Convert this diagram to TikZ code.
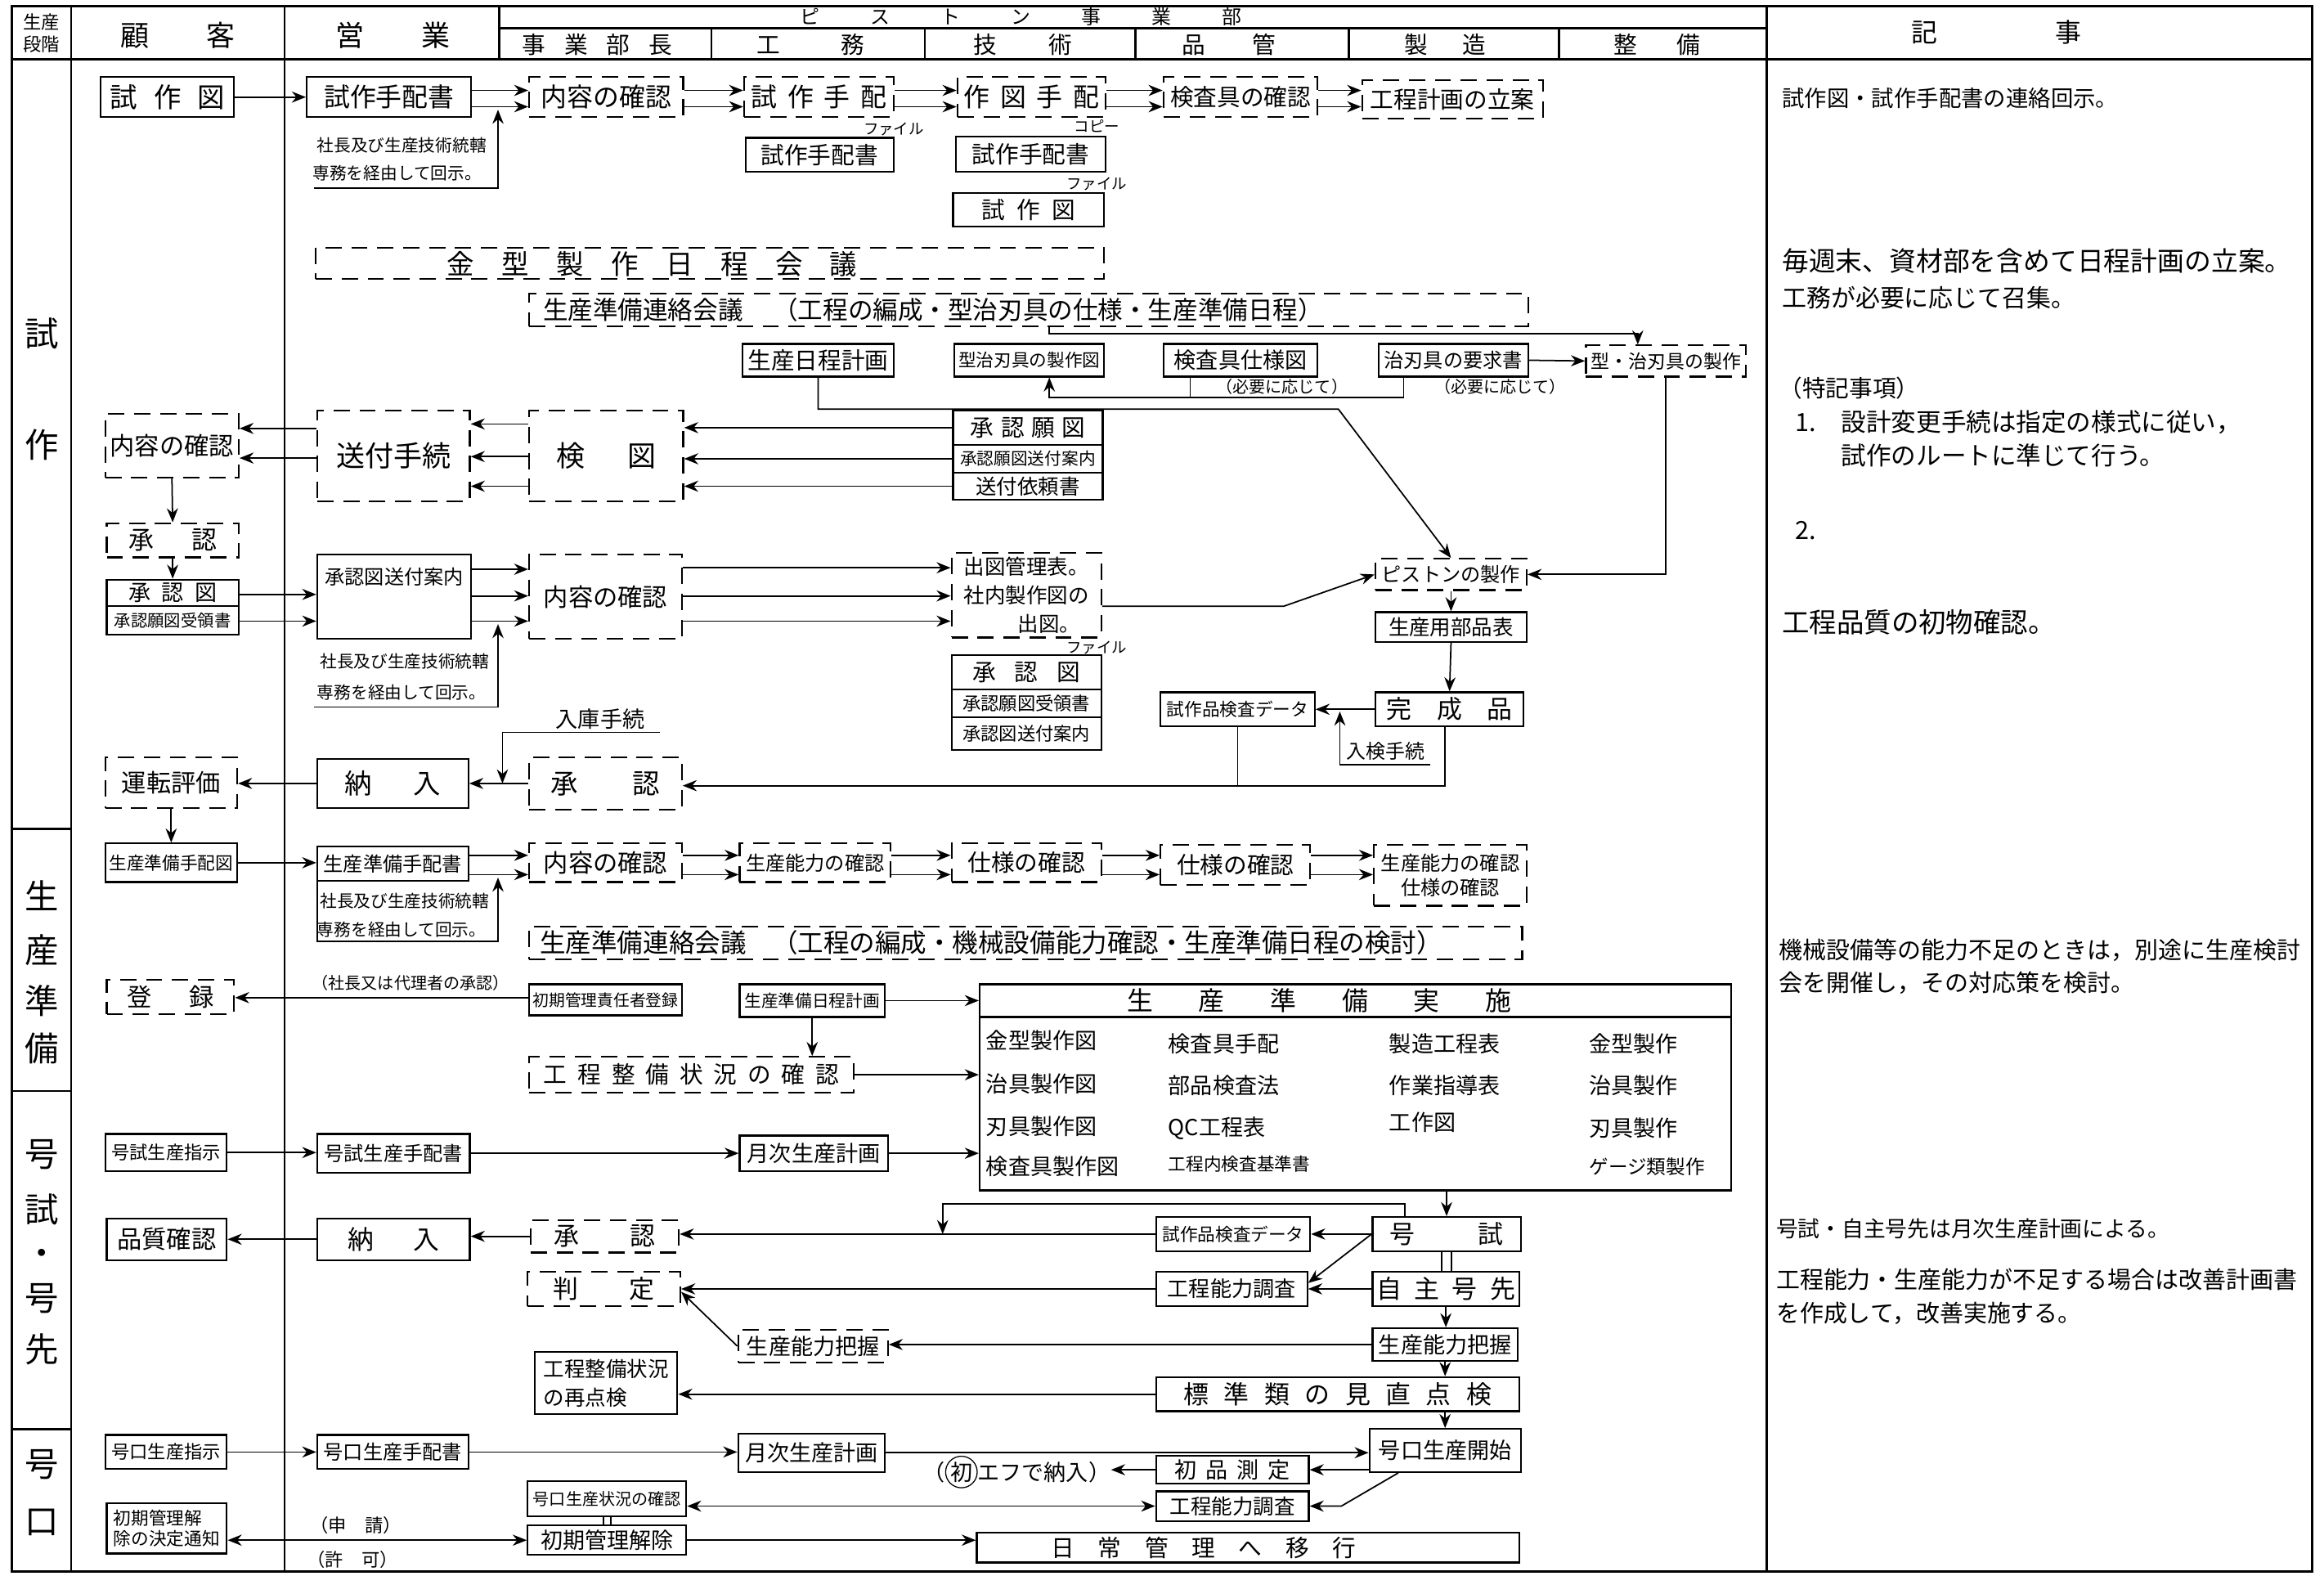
\documentclass[tikz,border=0pt]{standalone}
\usepackage{fontspec}
\setmainfont{Noto Sans CJK JP}
\usetikzlibrary{arrows.meta,calc}
\newcommand\fs[1]{\fontsize{#1}{#1}\selectfont}
\newcommand\bx[7][]{\node[box,#1,minimum width={(#5-#3)*0.2mm},minimum height={(#6-#4)*0.2mm}] (#2) at ({(#3+#5)/2},{(#4+#6)/2}) {#7};}
\newcommand\hy[4][arr]{\coordinate (tmpy) at (0,#4); \draw[#1] (#2 |- tmpy) -- (#3 |- tmpy);}
\tikzset{
 box/.style={draw, line width=0.7pt, inner sep=0pt, font=\fs{9.5}, align=center},
 dsh/.style={dash pattern=on 2.2mm off 1.3mm},
 arr/.style={line width=0.55pt, -{Stealth[length=1.9mm,width=1.5mm]}},
 arb/.style={line width=0.55pt, {Stealth[length=1.9mm,width=1.5mm]}-{Stealth[length=1.9mm,width=1.5mm]}},
 ln/.style={line width=0.55pt},
 frame/.style={line width=0.9pt},
 txt/.style={inner sep=0pt, font=\fs{9}},
}
\begin{document}
\begin{tikzpicture}[x=0.2mm,y=-0.2mm]
\useasboundingbox (0,0) rectangle (1568,1063);
\fill[white] (0,0) rectangle (1568,1063);
% ---------- frame ----------
\draw[frame] (8,4) rectangle (1560,1060);
\draw[frame] (8,40) -- (1560,40);
\draw[frame] (48,4) -- (48,1060);
\draw[frame] (192,4) -- (192,1060);
\draw[frame] (1192,4) -- (1192,1060);
\draw[frame] (337,4) -- (337,40);
\draw[frame] (337,19) -- (1192,19);
\foreach \xx in {480,624,766,910,1052} {\draw[frame] (\xx,19) -- (\xx,40);}
\draw[frame] (8,559) -- (48,559);
\draw[frame] (8,736) -- (48,736);
\draw[frame] (8,964) -- (48,964);
% header texts
\node[txt,font=\fs{7}] (hdA) at (28,15) {生産};
\node[txt,font=\fs{7}] (hdB) at (28,30) {段階};
\node[txt,font=\fs{11}] (hdC) at (120,24) {顧\hspace{2em}客};
\node[txt,font=\fs{11}] (hdD) at (265,24) {営\hspace{2em}業};
\node[txt,font=\fs{7.5}] (hdE) at (689,11) {ピ\hspace{2.6em}ス\hspace{2.6em}ト\hspace{2.6em}ン\hspace{2.6em}事\hspace{2.6em}業\hspace{2.6em}部};
\node[txt,font=\fs{9}] (hdF) at (403,30) {事\hspace{0.8em}業\hspace{0.8em}部\hspace{0.8em}長};
\node[txt,font=\fs{9}] (hdG) at (547,30) {工\hspace{2.6em}務};
\node[txt,font=\fs{9}] (hdH) at (690,30) {技\hspace{2.2em}術};
\node[txt,font=\fs{9}] (hdI) at (829,30) {品\hspace{2em}管};
\node[txt,font=\fs{9}] (hdJ) at (975,30) {製\hspace{1.5em}造};
\node[txt,font=\fs{9}] (hdK) at (1118,30) {整\hspace{1.7em}備};
\node[txt,font=\fs{10}] (hdL) at (1347,22) {記\hspace{4.5em}事};
% stage labels
\node[txt,font=\fs{13}] (stA) at (28,225) {試};
\node[txt,font=\fs{13}] (stB) at (28,300) {作};
\node[txt,font=\fs{13}] (stC) at (28,604) {生};
\node[txt,font=\fs{13}] (stD) at (28,641) {産};
\node[txt,font=\fs{13}] (stE) at (28,675) {準};
\node[txt,font=\fs{13}] (stF) at (28,707) {備};
\node[txt,font=\fs{13}] (stG) at (28,779) {号};
\node[txt,font=\fs{13}] (stH) at (28,816) {試};
\node[txt,font=\fs{13}] (stI) at (28,848) {・};
\node[txt,font=\fs{13}] (stJ) at (28,876) {号};
\node[txt,font=\fs{13}] (stK) at (28,910) {先};
\node[txt,font=\fs{13}] (stL) at (28,988) {号};
\node[txt,font=\fs{13}] (stM) at (28,1027) {口};
% ---------- row 1 ----------
\bx[font=\fs{10.5}]{szu}{68}{52}{158}{79}{試\hspace{0.6em}作\hspace{0.6em}図}
\bx[font=\fs{10}]{stts}{207}{52}{318}{79}{試作手配書}
\bx[dsh,font=\fs{10}]{nk1}{357}{52}{461}{79}{内容の確認}
\bx[dsh,font=\fs{10}]{stt}{502}{52}{603}{79}{試\hspace{0.4em}作\hspace{0.4em}手\hspace{0.4em}配}
\bx[dsh,font=\fs{10}]{szt}{646}{52}{746}{79}{作\hspace{0.4em}図\hspace{0.4em}手\hspace{0.4em}配}
\bx[dsh,font=\fs{9}]{kgk}{785}{52}{889}{79}{検査具の確認}
\bx[dsh,font=\fs{9}]{kkr}{919}{54}{1041}{80}{工程計画の立案}
\bx[font=\fs{9}]{fa}{503}{93}{603}{116}{試作手配書}
\bx[font=\fs{9}]{fb}{645}{92}{746}{116}{試作手配書}
\bx[font=\fs{9}]{fc}{643}{130}{745}{153}{試\hspace{0.5em}作\hspace{0.5em}図}
\node[txt,font=\fs{5.8}] (lfa) at (603,87) {ファイル};
\node[txt,font=\fs{5.8}] (lfb) at (740,85) {コピー};
\node[txt,font=\fs{5.8}] (lfc) at (740,124) {ファイル};
\draw[arr] (szu.east) -- (stts.west);
\hy{stts.east}{nk1.west}{61} \hy{stts.east}{nk1.west}{72}
\hy{nk1.east}{stt.west}{61} \hy{nk1.east}{stt.west}{72}
\hy{stt.east}{szt.west}{61} \hy{stt.east}{szt.west}{72}
\hy{szt.east}{kgk.west}{61} \hy{szt.east}{kgk.west}{72}
\hy{kgk.east}{kkr.west}{61} \hy{kgk.east}{kkr.west}{72}
\node[txt,font=\fs{6.5}] (n1a) at (271,98) {社長及び生産技術統轄};
\node[txt,font=\fs{6.5}] (n1b) at (268,117) {専務を経由して回示。};
\coordinate (n1l) at (212,127); \coordinate (n1r) at (336,127); \coordinate (n1t) at (336,74);
\draw[arr] (n1l) -- (n1r) -- (n1t);
% ---------- meetings ----------
\bx[dsh]{kgm}{213}{167}{745}{188}{}
\node[txt,font=\fs{10.5}] (kgmt) at (440,178) {金　型　製　作　日　程　会　議};
\bx[dsh]{srk1}{357}{198}{1031}{220}{}
\node[txt,font=\fs{9.6},anchor=west] (srk1t) at (366,209) {生産準備連絡会議\hspace{1.2em}（工程の編成・型治刃具の仕様・生産準備日程）};
% ---------- row 4 ----------
\bx[font=\fs{9}]{ssn}{501}{232}{603}{254}{生産日程計画}
\bx[font=\fs{6.8}]{kzz}{644}{232}{745}{254}{型治刃具の製作図}
\bx[font=\fs{8.5}]{kgs}{785}{232}{889}{254}{検査具仕様図}
\bx[font=\fs{7.6}]{jyk}{930}{232}{1031}{254}{治刃具の要求書}
\bx[dsh,font=\fs{7.2}]{ksk}{1070}{233}{1178}{254}{型・治刃具の製作}
\node[txt,font=\fs{6.3}] (hy1) at (865,261) {（必要に応じて）};
\node[txt,font=\fs{6.3}] (hy2) at (1012,261) {（必要に応じて）};
\coordinate (b1) at (708,268); \coordinate (b2) at (803,268); \coordinate (b3) at (947,268);
\draw[ln] (b3 |- jyk.south) -- (b3) -- (b2);
\draw[ln] (b2 |- kgs.south) -- (b2);
\draw[arr] (b2) -- (b1) -- (b1 |- kzz.south);
\draw[arr] (jyk.east) -- (ksk.west);
\coordinate (a1) at (708,225); \coordinate (a2) at (1105,225);
\draw[arr] (a1 |- srk1.south) -- (a1) -- (a2) -- (a2 |- ksk.north);
% ---------- 検図 block ----------
\bx[dsh,font=\fs{9.5}]{nk2}{71}{279}{161}{322}{内容の確認}
\bx[dsh,font=\fs{11}]{sft}{214}{277}{317}{338}{送付手続}
\bx[dsh,font=\fs{11}]{ktz}{357}{277}{461}{338}{検\hspace{1.5em}図}
\bx[font=\fs{9}]{sng}{643}{277}{744}{300}{承\hspace{0.3em}認\hspace{0.3em}願\hspace{0.3em}図}
\bx[font=\fs{6.5}]{sngs}{643}{300}{744}{319}{承認願図送付案内}
\bx[font=\fs{8}]{sfi}{643}{319}{744}{337}{送付依頼書}
\draw[arr] (sng.west) -- (sng.west -| ktz.east);
\draw[arr] (sngs.west) -- (sngs.west -| ktz.east);
\draw[arr] (sfi.west) -- (sfi.west -| ktz.east);
\hy{ktz.west}{sft.east}{286} \hy{ktz.west}{sft.east}{308} \hy{ktz.west}{sft.east}{328}
\hy{sft.west}{nk2.east}{289} \hy{sft.west}{nk2.east}{309}
% ---------- 承認 block ----------
\bx[dsh,font=\fs{9.7}]{sn1}{72}{353}{161}{376}{承\hspace{1.5em}認}
\bx[font=\fs{8.5}]{snz}{72}{391}{161}{409}{承\hspace{0.5em}認\hspace{0.5em}図}
\bx[font=\fs{6.4}]{snj}{72}{409}{161}{428}{承認願図受領書}
\bx{sza}{214}{374}{318}{431}{}
\node[txt,font=\fs{7.6}] (szat) at (266,389) {承認図送付案内};
\bx[dsh,font=\fs{9.5}]{nk3}{357}{374}{460}{431}{内容の確認}
\bx[dsh,font=\fs{8},align=left]{szk}{642}{373}{743}{430}{出図管理表。\\[3pt]社内製作図の\\[3pt]\hspace{2.6em}出図。}
\bx[font=\fs{9}]{snz2}{642}{442}{743}{465}{承\hspace{0.8em}認\hspace{0.8em}図}
\bx[font=\fs{7}]{snj2}{642}{465}{743}{484}{承認願図受領書}
\bx[font=\fs{7}]{szn2}{642}{484}{743}{506}{承認図送付案内}
\node[txt,font=\fs{5.8}] (lfd) at (740,437) {ファイル};
\draw[arr] (nk2.south) -- (sn1.north);
\draw[arr] (sn1.south) -- (snz.north);
\hy{snz.east}{sza.west}{401} \hy{snj.east}{sza.west}{419}
\hy{sza.east}{nk3.west}{384} \hy{sza.east}{nk3.west}{402} \hy{sza.east}{nk3.west}{419}
\hy{nk3.east}{szk.west}{383} \hy{nk3.east}{szk.west}{402} \hy{nk3.east}{szk.west}{419}
\node[txt,font=\fs{6.5}] (n2a) at (273,446) {社長及び生産技術統轄};
\node[txt,font=\fs{6.5}] (n2b) at (271,467) {専務を経由して回示。};
\coordinate (n2l) at (212,477); \coordinate (n2r) at (336,477); \coordinate (n2t) at (336,421);
\draw[arr] (n2l) -- (n2r) -- (n2t);
% ---------- piston ----------
\bx[dsh,font=\fs{7.6}]{psn}{928}{377}{1030}{398}{ピストンの製作}
\bx[font=\fs{8}]{sbh}{928}{413}{1030}{433}{生産用部品表}
\bx[font=\fs{9.7}]{kse}{928}{467}{1028}{490}{完\hspace{1em}成\hspace{1em}品}
\bx[font=\fs{6.8}]{ske}{783}{467}{887}{490}{試作品検査データ}
\coordinate (c2) at (552,276); \coordinate (c3) at (903,276);
\draw[arr] (c2 |- ssn.south) -- (c2) -- (c3) -- (psn.north);
\coordinate (d1) at (866,409);
\draw[arr] (d1 -| szk.east) -- (d1) -- (psn.west);
\draw[arr] (ksk.south) |- (psn.east);
\draw[arr] (psn.south) -- (sbh.north);
\draw[arr] (sbh.south) -- (kse.north);
\draw[arr] (kse.west) -- (ske.east);
\node[txt,font=\fs{7.5}] (nkt) at (935,507) {入検手続};
\coordinate (e1) at (965,516); \coordinate (e2) at (904,516); \coordinate (e3) at (904,480);
\draw[arr] (e1) -- (e2) -- (e3);
% ---------- 納入 ----------
\bx[dsh,font=\fs{9.5}]{unt}{71}{511}{160}{545}{運転評価}
\bx[font=\fs{10.5}]{nny1}{214}{512}{316}{545}{納\hspace{1.5em}入}
\bx[dsh,font=\fs{10.5}]{sn2}{357}{511}{460}{546}{承\hspace{2em}認}
\coordinate (f1) at (975,530);
\draw[arr] (f1 |- kse.south) -- (f1) -- (f1 -| sn2.east);
\draw[ln] (ske.south) -- (ske.south |- f1);
\node[txt,font=\fs{8.5}] (nkc) at (405,485) {入庫手続};
\coordinate (g1) at (339,494); \coordinate (g2) at (445,494);
\draw[arr] (g2) -- (g1) -- (g1 |- nny1.east);
\draw[arr] (sn2.west) -- (nny1.east);
\draw[arr] (nny1.west) -- (nny1.west -| unt.east);
% ---------- 生産準備 ----------
\bx[font=\fs{6.8}]{ssj}{71}{569}{160}{595}{生産準備手配図}
\bx[font=\fs{7.6}]{ssh}{214}{571}{316}{594}{生産準備手配書}
\bx[dsh,font=\fs{9.5}]{nk4}{357}{569}{460}{595}{内容の確認}
\bx[dsh,font=\fs{7.6}]{snk}{499}{569}{601}{595}{生産能力の確認}
\bx[dsh,font=\fs{9}]{sy1}{642}{569}{743}{595}{仕様の確認}
\bx[dsh,font=\fs{9}]{sy2}{783}{570}{884}{597}{仕様の確認}
\bx[dsh,font=\fs{7.6}]{snks}{927}{570}{1030}{611}{生産能力の確認\\[2pt]仕様の確認}
\draw[arr] (unt.south) -- (ssj.north);
\draw[arr] (ssj.east) -- (ssj.east -| ssh.west);
\hy{ssh.east}{nk4.west}{577} \hy{ssh.east}{nk4.west}{590}
\hy{nk4.east}{snk.west}{577} \hy{nk4.east}{snk.west}{590}
\hy{snk.east}{sy1.west}{577} \hy{snk.east}{sy1.west}{590}
\hy{sy1.east}{sy2.west}{577} \hy{sy1.east}{sy2.west}{590}
\hy{sy2.east}{snks.west}{577} \hy{sy2.east}{snks.west}{590}
\node[txt,font=\fs{6.5}] (n3a) at (273,608) {社長及び生産技術統轄};
\node[txt,font=\fs{6.5}] (n3b) at (271,627) {専務を経由して回示。};
\coordinate (h1) at (214,594); \coordinate (h2) at (214,635); \coordinate (h3) at (336,635); \coordinate (h4) at (336,592);
\draw[arr] (h1) -- (h2) -- (h3) -- (h4);
\bx[dsh]{srk2}{357}{625}{1027}{647}{}
\node[txt,font=\fs{9.9},anchor=west] (srk2t) at (364,636) {生産準備連絡会議\hspace{1em}（工程の編成・機械設備能力確認・生産準備日程の検討）};
\bx[dsh,font=\fs{9.5}]{trk}{72}{661}{158}{684}{登\hspace{1.5em}録}
\bx[font=\fs{6.2}]{sks}{357}{664}{460}{685}{初期管理責任者登録}
\bx[font=\fs{6.5}]{ssnk}{499}{664}{597}{686}{生産準備日程計画}
\hy{sks.west}{trk.east}{673}
\node[txt,font=\fs{6.3}] (sdl) at (277,663) {（社長又は代理者の承認）};
% 生産準備実施
\bx{ssjs}{661}{664}{1168}{803}{}
\coordinate (sj) at (0,686);
\draw[line width=0.7pt] (ssjs.west |- sj) -- (ssjs.east |- sj);
\node[txt,font=\fs{10}] (sjt) at (890,675) {生\hspace{1.75em}産\hspace{1.75em}準\hspace{1.75em}備\hspace{1.75em}実\hspace{1.75em}施};
\begin{scope}[every node/.style={txt,font=\fs{8.5},anchor=west}]
\node (i11) at (665,702) {金型製作図};
\node (i12) at (665,731) {治具製作図};
\node (i13) at (665,760) {刃具製作図};
\node (i14) at (665,787) {検査具製作図};
\node (i21) at (788,704) {検査具手配};
\node (i22) at (788,732) {部品検査法};
\node (i23) at (788,761) {QC工程表};
\node[font=\fs{6.8}] (i24) at (788,785) {工程内検査基準書};
\node (i31) at (937,704) {製造工程表};
\node (i32) at (937,732) {作業指導表};
\node (i33) at (937,757) {工作図};
\node (i41) at (1072,704) {金型製作};
\node (i42) at (1072,732) {治具製作};
\node (i43) at (1072,761) {刃具製作};
\node[font=\fs{7.4}] (i44) at (1072,787) {ゲージ類製作};
\end{scope}
\draw[arr] (ssnk.east) -- (ssnk.east -| ssjs.west);
\bx[dsh,font=\fs{9}]{tss}{357}{713}{576}{737}{工\hspace{0.45em}程\hspace{0.45em}整\hspace{0.45em}備\hspace{0.45em}状\hspace{0.45em}況\hspace{0.45em}の\hspace{0.45em}確\hspace{0.45em}認}
\draw[arr] (ssnk.south) -- (ssnk.south |- tss.north);
\draw[arr] (tss.east) -- (tss.east -| ssjs.west);
% ---------- 号試 ----------
\bx[font=\fs{7}]{gss}{71}{765}{153}{790}{号試生産指示}
\bx[font=\fs{7.6}]{gsh}{214}{765}{317}{791}{号試生産手配書}
\bx[font=\fs{8.5}]{gjk1}{499}{766}{599}{790}{月次生産計画}
\draw[arr] (gss.east) -- (gss.east -| gsh.west);
\draw[arr] (gsh.east) -- (gsh.east -| gjk1.west);
\draw[arr] (gjk1.east) -- (gjk1.east -| ssjs.west);
\bx[font=\fs{9.7}]{gs}{926}{821}{1026}{844}{号\hspace{2.5em}試}
\bx[font=\fs{6.8}]{ske2}{780}{821}{884}{844}{試作品検査データ}
\bx[dsh,font=\fs{9.7}]{sn3}{358}{823}{458}{845}{承\hspace{2em}認}
\bx[font=\fs{10}]{nny2}{214}{822}{317}{850}{納\hspace{1.5em}入}
\bx[font=\fs{9.5}]{hsk}{72}{822}{153}{850}{品質確認}
\bx[font=\fs{9.7}]{jjg}{926}{858}{1025}{881}{自\hspace{0.5em}主\hspace{0.5em}号\hspace{0.5em}先}
\bx[font=\fs{8.2}]{kns1}{780}{858}{882}{881}{工程能力調査}
\bx[dsh,font=\fs{9.7}]{htt}{356}{858}{459}{881}{判\hspace{2em}定}
\bx[dsh,font=\fs{8.5}]{snh1}{498}{897}{599}{919}{生産能力把握}
\bx[font=\fs{8.5}]{snh2}{926}{896}{1024}{918}{生産能力把握}
\bx[font=\fs{9.7}]{hmt}{780}{929}{1025}{952}{標\hspace{0.6em}準\hspace{0.6em}類\hspace{0.6em}の\hspace{0.6em}見\hspace{0.6em}直\hspace{0.6em}点\hspace{0.6em}検}
\bx[font=\fs{8},align=left]{tsr}{361}{912}{457}{954}{工程整備状況\\[3pt]の再点検}
\draw[arr] (gs.north |- ssjs.south) -- (gs.north);
\coordinate (k1) at (948,812); \coordinate (k2) at (636,812);
\draw[arr] (k1 |- gs.north) -- (k1) -- (k2) -- (k2 |- ske2.west);
\draw[arr] (gs.west) -- (ske2.east);
\draw[arr] (ske2.west) -- (ske2.west -| sn3.east);
\draw[arr] (sn3.west) -- (sn3.west -| nny2.east);
\draw[arr] (nny2.west) -- (nny2.west -| hsk.east);
\draw[ln] ([xshift=-0.7mm]gs.south) -- ([xshift=-0.7mm]gs.south |- jjg.north);
\draw[ln] ([xshift=0.7mm]gs.south) -- ([xshift=0.7mm]gs.south |- jjg.north);
\draw[arr] (jjg.west) -- (kns1.east);
\draw[arr] (gs.west) -- ([yshift=0.8mm]kns1.east);
\draw[arr] (kns1.west) -- (kns1.west -| htt.east);
\draw[arr] (jjg.south) -- (jjg.south |- snh2.north);
\draw[arr] (snh2.west) -- (snh2.west -| snh1.east);
\draw[arr] (snh1.west) -- ([yshift=-0.4mm]htt.east);
\draw[arr] (snh2.south) -- (snh2.south |- hmt.north);
\draw[arr] (hmt.west) -- (hmt.west -| tsr.east);
% ---------- 号口 ----------
\bx[font=\fs{7}]{gos}{71}{968}{153}{991}{号口生産指示}
\bx[font=\fs{7.6}]{goh}{214}{968}{316}{991}{号口生産手配書}
\bx[font=\fs{8.5}]{gjk2}{498}{967}{597}{993}{月次生産計画}
\bx[font=\fs{8.5}]{gok}{924}{964}{1026}{993}{号口生産開始}
\bx[font=\fs{8.5}]{shs}{780}{982}{883}{1001}{初\hspace{0.4em}品\hspace{0.4em}測\hspace{0.4em}定}
\bx[font=\fs{8}]{kns2}{780}{1006}{883}{1026}{工程能力調査}
\bx[font=\fs{6.3}]{gsk}{356}{999}{463}{1023}{号口生産状況の確認}
\bx[font=\fs{8.5}]{skk}{356}{1029}{463}{1049}{初期管理解除}
\bx{njk}{659}{1034}{1025}{1054}{}
\node[txt,font=\fs{9}] (njkt) at (812,1044) {日　常　管　理　へ　移　行};
\bx[font=\fs{6.8},align=left]{skt}{72}{1014}{153}{1048}{初期管理解\\[1pt]除の決定通知}
\node[txt,font=\fs{8.5}] (shnt) at (686,993) {（\tikz[baseline=(q.base)]\node[circle,draw,inner sep=0.2pt,line width=0.4pt](q){初};エフで納入）};
\draw[arr] (hmt.south -| gok.north) -- (gok.north);
\draw[arr] (gos.east) -- (gos.east -| goh.west);
\draw[arr] (goh.east) -- (goh.east -| gjk2.west);
\draw[arr] (gjk2.east) -- (gjk2.east -| gok.west);
\draw[arr] (gok.west |- shs.east) -- (shs.east);
\draw[arr] (shs.west) -- (shs.west -| shnt.east);
\coordinate (m1) at (905,1016);
\draw[arr] ([xshift=4mm]gok.south west) -- (m1) -- (m1 -| kns2.east);
\draw[arb] (kns2.west) -- (kns2.west -| gsk.east);
\draw[ln] ([xshift=-0.5mm]gsk.south) -- ([xshift=-0.5mm]skk.north);
\draw[ln] ([xshift=0.5mm]gsk.south) -- ([xshift=0.5mm]skk.north);
\draw[arr] (skk.east) -- (skk.east -| njk.west);
\hy[arb]{skt.east}{skk.west}{1039}
\node[txt,font=\fs{7}] (sns) at (240,1029) {（申\hspace{1em}請）};
\node[txt,font=\fs{7}] (kyk) at (238,1052) {（許\hspace{1em}可）};
% ---------- notes ----------
\begin{scope}[every node/.style={txt,anchor=west}]
\node[font=\fs{8.6}] (r1) at (1202,66) {試作図・試作手配書の連絡回示。};
\node[font=\fs{10.3}] (r2) at (1202,176) {毎週末、資材部を含めて日程計画の立案。};
\node[font=\fs{9.4}] (r3) at (1202,201) {工務が必要に応じて召集。};
\node[font=\fs{9}] (r4) at (1200,262) {（特記事項）};
\node[font=\fs{9.6}] (r5) at (1211,285) {1.};
\node[font=\fs{9.6}] (r6) at (1242,285) {設計変更手続は指定の様式に従い，};
\node[font=\fs{9.6}] (r7) at (1242,307) {試作のルートに準じて行う。};
\node[font=\fs{9.6}] (r8) at (1211,358) {2.};
\node[font=\fs{10.5}] (r9) at (1202,420) {工程品質の初物確認。};
\node[font=\fs{9.1}] (r10) at (1200,641) {機械設備等の能力不足のときは，別途に生産検討};
\node[font=\fs{9.1}] (r11) at (1200,663) {会を開催し，その対応策を検討。};
\node[font=\fs{8.4}] (r12) at (1198,829) {号試・自主号先は月次生産計画による。};
\node[font=\fs{9.1}] (r13) at (1198,863) {工程能力・生産能力が不足する場合は改善計画書};
\node[font=\fs{9.1}] (r14) at (1198,886) {を作成して，改善実施する。};
\end{scope}
\end{tikzpicture}
\end{document}
